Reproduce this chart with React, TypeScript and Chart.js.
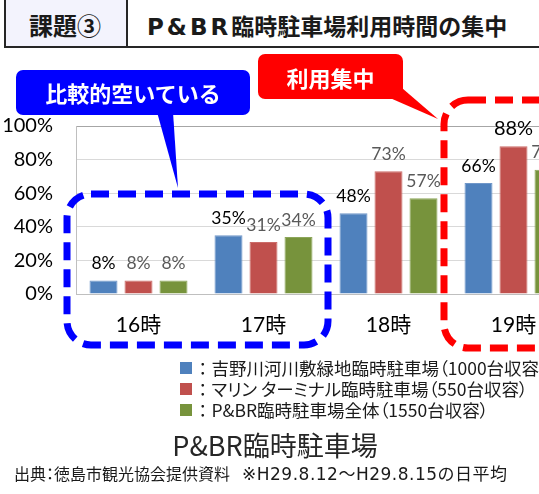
import React, { useEffect, useRef } from "react";
import { Chart, registerables } from "chart.js";

Chart.register(...registerables);

// ---- data ----
const categories = ["16時", "17時", "18時", "19時"];
const seriesNames = [
  "吉野川河川敷緑地臨時駐車場（1000台収容）",
  "マリン ターミナル臨時駐車場（550台収容）",
  "P&BR臨時駐車場全体（1550台収容）",
];
const yoshinogawaValues = [8, 35, 48, 66];
const marineValues = [8, 31, 73, 88];
const totalValues = [8, 34, 57, 74];
const yTickValues = [0, 20, 40, 60, 80, 100];

const seriesColors = ["#4F81BD", "#C0504D", "#77933C"];
const seriesBorders = ["#7097C9", "#CC6C69", "#8CA65A"];
const labelColors = ["#000000", "#595959", "#595959"];
const emphasized = { dataset: 1, index: 3 };

const FONT = "Lato, 'Noto Sans CJK JP', sans-serif";
const JP = "'Noto Sans CJK JP', 'Noto Sans', sans-serif";

const labelPlugin = {
  id: "barLabels",
  afterDatasetsDraw(chart: any) {
    const ctx = chart.ctx;
    chart.data.datasets.forEach((ds: any, di: number) => {
      const meta = chart.getDatasetMeta(di);
      meta.data.forEach((bar: any, i: number) => {
        const v = ds.data[i];
        const big = di === emphasized.dataset && i === emphasized.index;
        ctx.save();
        ctx.font = `${big ? 20 : 17.5}px ${FONT}`;
        ctx.fillStyle = big ? "#000000" : labelColors[di];
        ctx.textAlign = "center";
        ctx.textBaseline = "middle";
        ctx.fillText(`${v}%`, bar.x, bar.y - (big ? 18 : 17));
        ctx.restore();
      });
    });
  },
};

function BarChart() {
  const ref = useRef<HTMLCanvasElement | null>(null);
  useEffect(() => {
    if (!ref.current) return;
    const values = [yoshinogawaValues, marineValues, totalValues];
    const chart = new Chart(ref.current, {
      type: "bar",
      data: {
        labels: categories,
        datasets: values.map((d, i) => ({
          label: seriesNames[i],
          data: d,
          backgroundColor: seriesColors[i],
          borderColor: seriesBorders[i],
          borderWidth: 1,
          categoryPercentage: 0.84,
          barPercentage: 0.8,
        })),
      },
      options: {
        animation: false,
        responsive: false,
        maintainAspectRatio: false,
        layout: { padding: { top: 126, left: 0, right: 0, bottom: 0 } },
        plugins: {
          legend: { display: false },
          tooltip: { enabled: false },
          title: { display: false },
        },
        scales: {
          x: {
            grid: { display: false, drawTicks: false },
            border: { display: true, color: "#BFBFBF", width: 1 },
            ticks: {
              color: "#000000",
              font: { family: FONT, size: 21 },
              padding: 19,
            },
            afterFit(scale: any) {
              scale.height = 46;
            },
          },
          y: {
            min: 0,
            max: 100,
            afterBuildTicks(scale: any) {
              scale.ticks = yTickValues.map((v) => ({ value: v }));
            },
            grid: {
              drawTicks: false,
              color: (c: any) =>
                c.tick && c.tick.value === 100 ? "#A6A6A6" : "#D9D9D9",
              lineWidth: 1,
            },
            border: { display: true, color: "#BFBFBF", width: 1 },
            ticks: {
              color: "#000000",
              font: { family: FONT, size: 20 },
              padding: 23,
              callback: (v: any) => `${v}%`,
            },
            afterFit(scale: any) {
              scale.width = 76;
            },
          },
        },
      },
      plugins: [labelPlugin],
    });
    return () => chart.destroy();
  }, []);
  return (
    <canvas
      ref={ref}
      width={576}
      height={340}
      style={{ position: "absolute", left: 0, top: 0, width: 576, height: 340 }}
    />
  );
}

export default function App() {
  const legendTops = [368, 389, 410];
  return (
    <div
      style={{
        position: "absolute",
        left: 0,
        top: 0,
        width: 539,
        height: 494,
        overflow: "hidden",
        background: "#FFFFFF",
        fontFamily: JP,
      }}
    >
      {/* header */}
      <div
        style={{
          position: "absolute",
          left: 4,
          top: -2,
          width: 124,
          height: 50,
          background: "#F3F3FD",
          borderLeft: "2px solid #262626",
          borderBottom: "2px solid #262626",
          borderRight: "2px solid #262626",
          boxSizing: "border-box",
        }}
      />
      <div
        style={{
          position: "absolute",
          left: 126,
          top: -2,
          width: 430,
          height: 50,
          borderBottom: "2px solid #262626",
          boxSizing: "border-box",
        }}
      />
      <div
        style={{
          position: "absolute",
          left: 4,
          top: 9,
          width: 122,
          textAlign: "center",
          fontSize: 24,
          lineHeight: "32px",
          fontWeight: 700,
          color: "#1A1A1A",
        }}
      >
        課題③
      </div>
      <div
        style={{
          position: "absolute",
          left: 147,
          top: 9,
          fontSize: 23,
          lineHeight: "32px",
          fontWeight: 700,
          color: "#1A1A1A",
          whiteSpace: "nowrap",
        }}
      >
        <span
          style={{
            fontFamily: "'DejaVu Sans', sans-serif",
            fontSize: 23,
            fontWeight: 700,
            letterSpacing: 3,
          }}
        >
          P&amp;BR
        </span>
        臨時駐車場利用時間の集中
      </div>

      <BarChart />

      {/* annotations */}
      <svg
        width={539}
        height={494}
        style={{ position: "absolute", left: 0, top: 0 }}
      >
        <rect
          x={67}
          y={194}
          width={261}
          height={151}
          rx={24}
          ry={24}
          fill="none"
          stroke="#0000FF"
          strokeWidth={7}
          strokeDasharray="18 9"
        />
        <rect
          x={444}
          y={100}
          width={160}
          height={248}
          rx={24}
          ry={24}
          fill="none"
          stroke="#FF0000"
          strokeWidth={7}
          strokeDasharray="18 9"
        />
        <polygon points="157,112 173,112 178,188" fill="#0000FF" />
        <rect x={16} y={70} width={234} height={45} rx={7} ry={7} fill="#0000FF" />
        <polygon points="390,98 402,88 438,119" fill="#FF0000" />
        <rect x={258} y={54} width={145} height={45} rx={7} ry={7} fill="#FF0000" />
      </svg>
      <div
        style={{
          position: "absolute",
          left: 16,
          top: 76,
          width: 234,
          textAlign: "center",
          color: "#FFFFFF",
          fontSize: 22,
          lineHeight: "32px",
          fontWeight: 700,
        }}
      >
        比較的空いている
      </div>
      <div
        style={{
          position: "absolute",
          left: 258,
          top: 61,
          width: 145,
          textAlign: "center",
          color: "#FFFFFF",
          fontSize: 22,
          lineHeight: "32px",
          fontWeight: 700,
        }}
      >
        利用集中
      </div>

      {/* legend */}
      {seriesNames.map((name, i) => (
        <React.Fragment key={i}>
          <div
            style={{
              position: "absolute",
              left: 180,
              top: legendTops[i] - 6,
              width: 12,
              height: 12,
              background: seriesColors[i],
            }}
          />
          <div
            style={{
              position: "absolute",
              left: 194,
              top: legendTops[i] - 11,
              fontSize: 17.5,
              lineHeight: "22px",
              color: "#1A1A1A",
              whiteSpace: "nowrap",
            }}
          >
            ：<span style={{ fontFeatureSettings: '"palt"' }}>{name}</span>
          </div>
        </React.Fragment>
      ))}

      {/* titles */}
      <div
        style={{
          position: "absolute",
          left: 0,
          top: 428,
          width: 550,
          textAlign: "center",
          fontSize: 27,
          lineHeight: "34px",
          color: "#262626",
          whiteSpace: "nowrap",
        }}
      >
        P&amp;BR臨時駐車場
      </div>
      <div
        style={{
          position: "absolute",
          left: 14,
          top: 462,
          fontSize: 16,
          lineHeight: "22px",
          color: "#1A1A1A",
          whiteSpace: "nowrap",
        }}
      >
        <span style={{ fontFeatureSettings: '"palt"' }}>出典：徳島市観光協会提供資料</span>
        <span
          style={{
            marginLeft: 12,
            fontFamily: "'DejaVu Sans', 'Noto Sans CJK JP', sans-serif",
            fontSize: 17,
            letterSpacing: 0.5,
          }}
        >
          ※H29.8.12～H29.8.15の日平均
        </span>
      </div>
    </div>
  );
}
